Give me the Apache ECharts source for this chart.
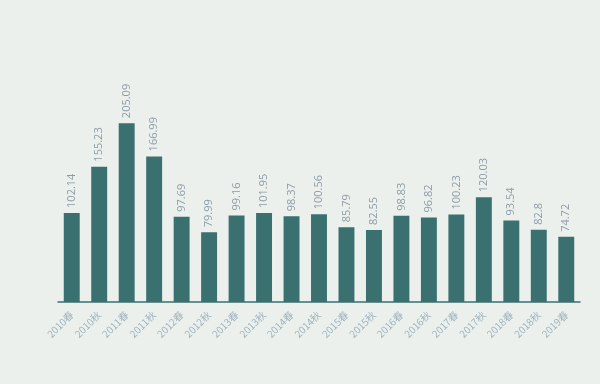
<!DOCTYPE html>
<html><head><meta charset="utf-8">
<script src="https://cdn.jsdelivr.net/npm/echarts@6/dist/echarts.min.js"></script>
<style>html,body{margin:0;padding:0;background:#ebf0ed;}#c{width:600px;height:384px;}</style>
</head><body><div id="c"></div>
<script>
const categories = ['2010春','2010秋','2011春','2011秋','2012春','2012秋','2013春','2013秋','2014春','2014秋','2015春','2015秋','2016春','2016秋','2017春','2017秋','2018春','2018秋','2019春'];
const values = [102.14,155.23,205.09,166.99,97.69,79.99,99.16,101.95,98.37,100.56,85.79,82.55,98.83,96.82,100.23,120.03,93.54,82.8,74.72];
const chart = echarts.init(document.getElementById('c'));
chart.setOption({
  backgroundColor: '#ebf0ed',
  animation: false,
  grid: {left: 58, right: 20, top: 84, bottom: 82},
  xAxis: {
    type: 'category', data: categories,
    axisLine: {lineStyle: {color: '#3a7070', width: 1.5}},
    axisTick: {show: false},
    axisLabel: {rotate: 45, color: '#9fb2bd', fontSize: 10, fontFamily: 'Noto Sans CJK SC', interval: 0, margin: 11}
  },
  yAxis: {type: 'value', min: 0, max: 250, show: false, splitLine: {show: false}},
  series: [{
    type: 'bar', data: values, barWidth: '58%',
    itemStyle: {color: '#3a7070'},
    label: {show: true, position: 'top', rotate: 90, align: 'left', verticalAlign: 'middle', distance: 5, color: '#8d9ba6', fontSize: 11, fontFamily: 'Open Sans'}
  }]
});
</script></body></html>
